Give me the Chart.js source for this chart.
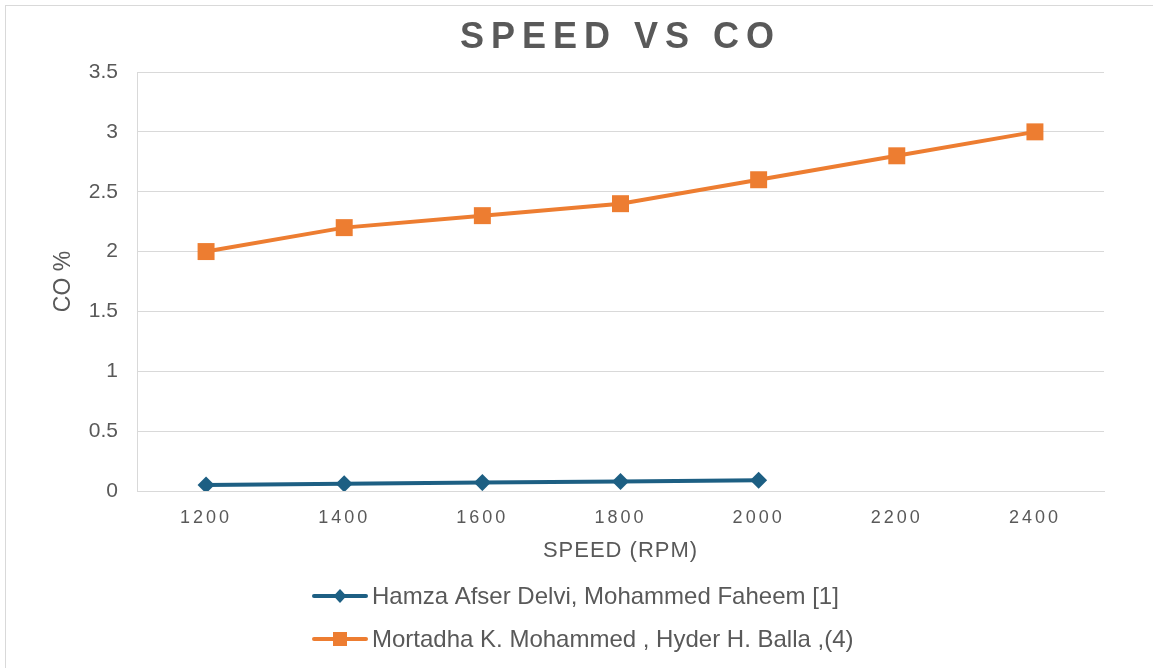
<!DOCTYPE html>
<html lang="en">
<head>
    <meta charset="UTF-8">
    <title>Speed vs CO</title>
    <script src="https://cdn.jsdelivr.net/npm/chart.js"></script>
    <style>
        * {
            margin: 0;
            padding: 0;
            box-sizing: border-box;
        }

        body {
            width: 1153px;
            height: 668px;
            overflow: hidden;
            background-color: #ffffff;
            font-family: 'Liberation Sans', Arial, sans-serif;
        }

        .frame {
            position: absolute;
            left: 5px;
            top: 5px;
            width: 1170px;
            height: 700px;
            border: 1px solid #d9d9d9;
        }

        #chart {
            position: absolute;
            left: 0;
            top: 0;
        }
    </style>
</head>
<body>
<div class="frame"></div>
<canvas id="chart" width="1153" height="668"></canvas>

<script>
// data
const speeds = ['1200', '1400', '1600', '1800', '2000', '2200', '2400'];
const hamzaCO = [0.05, 0.06, 0.07, 0.08, 0.09];
const mortadhaCO = [2, 2.2, 2.3, 2.4, 2.6, 2.8, 3];
const yTicks = [0, 0.5, 1, 1.5, 2, 2.5, 3, 3.5];

const seriesNames = [
    'Hamza Afser Delvi, Mohammed Faheem [1]',
    'Mortadha K. Mohammed , Hyder H. Balla ,(4)'
];
const chartTitle = 'SPEED VS CO';
const xTitle = 'SPEED (RPM)';
const yTitle = 'CO %';

const textColor = '#595959';
const gridColor = '#d9d9d9';
const blue = '#1d5f83';
const orange = '#ed7d31';
const fontFamily = '"Liberation Sans", Arial, sans-serif';

// wrap a scale drawing method so it uses its own letter spacing
function withSpacing(scale, name, spacing) {
    const orig = scale[name];
    scale[name] = function (...args) {
        const c = scale.ctx;
        const old = c.letterSpacing;
        c.letterSpacing = spacing;
        orig.apply(scale, args);
        c.letterSpacing = old;
    };
}

const spacingPlugin = {
    id: 'spacing',
    afterLayout(chart) {
        const x = chart.scales.x;
        const y = chart.scales.y;
        if (x._spaced) return;
        withSpacing(x, 'drawLabels', '3px');
        withSpacing(x, 'drawTitle', '1px');
        withSpacing(y, 'drawLabels', '0px');
        withSpacing(y, 'drawTitle', '0px');
        x._spaced = true;
    }
};

// title sits over the plot area, not the whole canvas
const titlePlugin = {
    id: 'bigTitle',
    afterDraw(chart) {
        const ctx = chart.ctx;
        const area = chart.chartArea;
        ctx.save();
        ctx.letterSpacing = '7px';
        ctx.font = 'bold 36px ' + fontFamily;
        ctx.fillStyle = textColor;
        ctx.textAlign = 'center';
        ctx.textBaseline = 'alphabetic';
        ctx.fillText(chartTitle, (area.left + area.right) / 2, 48);
        ctx.restore();
    }
};

// legend stacked one item per row, line + marker like in the picture
const legendPlugin = {
    id: 'stackedLegend',
    afterDraw(chart) {
        const ctx = chart.ctx;
        const rows = [596, 639];
        ctx.save();
        ctx.letterSpacing = '0px';
        chart.data.datasets.forEach((ds, i) => {
            const y = rows[i];
            ctx.strokeStyle = ds.borderColor;
            ctx.lineWidth = 4;
            ctx.lineCap = 'round';
            ctx.beginPath();
            ctx.moveTo(314, y);
            ctx.lineTo(366, y);
            ctx.stroke();

            ctx.fillStyle = ds.borderColor;
            ctx.beginPath();
            if (ds.pointStyle === 'rectRot') {
                ctx.moveTo(340, y - 7);
                ctx.lineTo(346.5, y);
                ctx.lineTo(340, y + 7);
                ctx.lineTo(333.5, y);
                ctx.closePath();
            } else {
                ctx.rect(333, y - 7, 14, 14);
            }
            ctx.fill();

            ctx.font = '24px ' + fontFamily;
            ctx.fillStyle = textColor;
            ctx.textAlign = 'left';
            ctx.textBaseline = 'middle';
            ctx.fillText(ds.label, 372, y + 1);
        });
        ctx.restore();
    }
};

const ctx = document.getElementById('chart').getContext('2d');

const speedChart = new Chart(ctx, {
    type: 'line',
    data: {
        labels: speeds,
        datasets: [
            {
                label: seriesNames[0],
                data: hamzaCO,
                borderColor: blue,
                backgroundColor: blue,
                borderWidth: 4,
                pointStyle: 'rectRot',
                pointRadius: 8.5,
                pointHoverRadius: 8.5,
                pointBackgroundColor: blue,
                pointBorderColor: blue,
                pointBorderWidth: 0,
                tension: 0
            },
            {
                label: seriesNames[1],
                data: mortadhaCO,
                borderColor: orange,
                backgroundColor: orange,
                borderWidth: 4,
                pointStyle: 'rect',
                pointRadius: 12,
                pointHoverRadius: 12,
                pointBackgroundColor: orange,
                pointBorderColor: orange,
                pointBorderWidth: 0,
                tension: 0
            }
        ]
    },
    options: {
        responsive: false,
        animation: false,
        layout: {
            padding: { top: 72, right: 49, bottom: 97, left: 0 }
        },
        plugins: {
            legend: { display: false },
            title: { display: false },
            tooltip: { enabled: false }
        },
        scales: {
            x: {
                offset: true,
                grid: { display: false, drawTicks: false },
                border: { display: true, color: gridColor, width: 1 },
                ticks: {
                    color: textColor,
                    font: { family: fontFamily, size: 18 },
                    padding: 16,
                    maxRotation: 0,
                    autoSkip: false
                },
                title: {
                    display: true,
                    text: xTitle,
                    color: textColor,
                    font: { family: fontFamily, size: 22 },
                    padding: 7
                },
                afterFit(scale) {
                    scale.height = 80;
                }
            },
            y: {
                min: 0,
                max: 3.5,
                grid: { color: gridColor, drawTicks: false, lineWidth: 1 },
                border: { display: true, color: gridColor, width: 1 },
                ticks: {
                    color: textColor,
                    font: { family: fontFamily, size: 21 },
                    padding: 19,
                    callback: (value) => String(value)
                },
                afterBuildTicks(scale) {
                    scale.ticks = yTicks.map(v => ({ value: v }));
                },
                title: {
                    display: true,
                    text: yTitle,
                    color: textColor,
                    font: { family: fontFamily, size: 23 },
                    padding: 50
                },
                afterFit(scale) {
                    scale.width = 137;
                }
            }
        }
    },
    plugins: [spacingPlugin, titlePlugin, legendPlugin]
});
</script>
</body>
</html>
